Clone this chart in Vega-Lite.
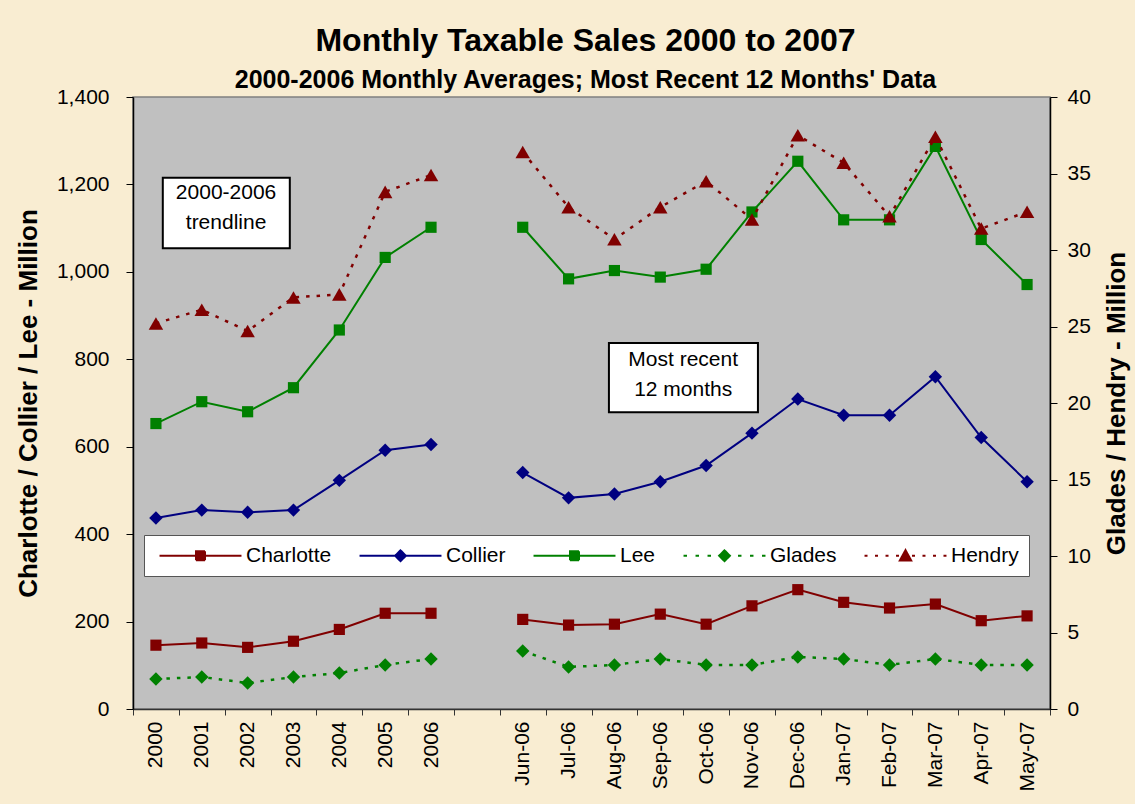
{
  "$schema": "https://vega.github.io/schema/vega-lite/v6.json",
  "width": 917,
  "height": 612,
  "autosize": {"type": "none"},
  "padding": {"left": 133, "top": 97, "right": 85, "bottom": 95},
  "background": "#F9EDD2",
  "title": {
    "text": "Monthly Taxable Sales 2000 to 2007",
    "subtitle": "2000-2006 Monthly Averages; Most Recent 12 Months' Data",
    "font": "Liberation Sans",
    "fontSize": 32,
    "fontWeight": "bold",
    "color": "black",
    "subtitleFont": "Liberation Sans",
    "subtitleFontSize": 25,
    "subtitleFontWeight": "bold",
    "subtitleColor": "black",
    "subtitlePadding": 10,
    "anchor": "middle",
    "frame": "group",
    "offset": -8,
    "dx": -6
  },
  "datasets": {
    "sales": [
      {"period": "2000", "county": "Charlotte", "value": 146, "span": "annual"},
      {"period": "2001", "county": "Charlotte", "value": 151, "span": "annual"},
      {"period": "2002", "county": "Charlotte", "value": 141, "span": "annual"},
      {"period": "2003", "county": "Charlotte", "value": 155, "span": "annual"},
      {"period": "2004", "county": "Charlotte", "value": 182, "span": "annual"},
      {"period": "2005", "county": "Charlotte", "value": 219, "span": "annual"},
      {"period": "2006", "county": "Charlotte", "value": 219, "span": "annual"},
      {"period": "Jun-06", "county": "Charlotte", "value": 205, "span": "monthly"},
      {"period": "Jul-06", "county": "Charlotte", "value": 192, "span": "monthly"},
      {"period": "Aug-06", "county": "Charlotte", "value": 194, "span": "monthly"},
      {"period": "Sep-06", "county": "Charlotte", "value": 217, "span": "monthly"},
      {"period": "Oct-06", "county": "Charlotte", "value": 194, "span": "monthly"},
      {"period": "Nov-06", "county": "Charlotte", "value": 236, "span": "monthly"},
      {"period": "Dec-06", "county": "Charlotte", "value": 273, "span": "monthly"},
      {"period": "Jan-07", "county": "Charlotte", "value": 244, "span": "monthly"},
      {"period": "Feb-07", "county": "Charlotte", "value": 231, "span": "monthly"},
      {"period": "Mar-07", "county": "Charlotte", "value": 240, "span": "monthly"},
      {"period": "Apr-07", "county": "Charlotte", "value": 202, "span": "monthly"},
      {"period": "May-07", "county": "Charlotte", "value": 213, "span": "monthly"},
      {"period": "2000", "county": "Collier", "value": 437, "span": "annual"},
      {"period": "2001", "county": "Collier", "value": 455, "span": "annual"},
      {"period": "2002", "county": "Collier", "value": 450, "span": "annual"},
      {"period": "2003", "county": "Collier", "value": 455, "span": "annual"},
      {"period": "2004", "county": "Collier", "value": 523, "span": "annual"},
      {"period": "2005", "county": "Collier", "value": 592, "span": "annual"},
      {"period": "2006", "county": "Collier", "value": 605, "span": "annual"},
      {"period": "Jun-06", "county": "Collier", "value": 541, "span": "monthly"},
      {"period": "Jul-06", "county": "Collier", "value": 483, "span": "monthly"},
      {"period": "Aug-06", "county": "Collier", "value": 492, "span": "monthly"},
      {"period": "Sep-06", "county": "Collier", "value": 520, "span": "monthly"},
      {"period": "Oct-06", "county": "Collier", "value": 557, "span": "monthly"},
      {"period": "Nov-06", "county": "Collier", "value": 631, "span": "monthly"},
      {"period": "Dec-06", "county": "Collier", "value": 709, "span": "monthly"},
      {"period": "Jan-07", "county": "Collier", "value": 672, "span": "monthly"},
      {"period": "Feb-07", "county": "Collier", "value": 672, "span": "monthly"},
      {"period": "Mar-07", "county": "Collier", "value": 760, "span": "monthly"},
      {"period": "Apr-07", "county": "Collier", "value": 621, "span": "monthly"},
      {"period": "May-07", "county": "Collier", "value": 520, "span": "monthly"},
      {"period": "2000", "county": "Lee", "value": 653, "span": "annual"},
      {"period": "2001", "county": "Lee", "value": 703, "span": "annual"},
      {"period": "2002", "county": "Lee", "value": 680, "span": "annual"},
      {"period": "2003", "county": "Lee", "value": 735, "span": "annual"},
      {"period": "2004", "county": "Lee", "value": 867, "span": "annual"},
      {"period": "2005", "county": "Lee", "value": 1033, "span": "annual"},
      {"period": "2006", "county": "Lee", "value": 1102, "span": "annual"},
      {"period": "Jun-06", "county": "Lee", "value": 1102, "span": "monthly"},
      {"period": "Jul-06", "county": "Lee", "value": 984, "span": "monthly"},
      {"period": "Aug-06", "county": "Lee", "value": 1003, "span": "monthly"},
      {"period": "Sep-06", "county": "Lee", "value": 988, "span": "monthly"},
      {"period": "Oct-06", "county": "Lee", "value": 1006, "span": "monthly"},
      {"period": "Nov-06", "county": "Lee", "value": 1137, "span": "monthly"},
      {"period": "Dec-06", "county": "Lee", "value": 1253, "span": "monthly"},
      {"period": "Jan-07", "county": "Lee", "value": 1119, "span": "monthly"},
      {"period": "Feb-07", "county": "Lee", "value": 1119, "span": "monthly"},
      {"period": "Mar-07", "county": "Lee", "value": 1287, "span": "monthly"},
      {"period": "Apr-07", "county": "Lee", "value": 1074, "span": "monthly"},
      {"period": "May-07", "county": "Lee", "value": 971, "span": "monthly"},
      {"period": "2000", "county": "Glades", "value": 1.96, "span": "annual"},
      {"period": "2001", "county": "Glades", "value": 2.09, "span": "annual"},
      {"period": "2002", "county": "Glades", "value": 1.70, "span": "annual"},
      {"period": "2003", "county": "Glades", "value": 2.09, "span": "annual"},
      {"period": "2004", "county": "Glades", "value": 2.35, "span": "annual"},
      {"period": "2005", "county": "Glades", "value": 2.88, "span": "annual"},
      {"period": "2006", "county": "Glades", "value": 3.27, "span": "annual"},
      {"period": "Jun-06", "county": "Glades", "value": 3.79, "span": "monthly"},
      {"period": "Jul-06", "county": "Glades", "value": 2.75, "span": "monthly"},
      {"period": "Aug-06", "county": "Glades", "value": 2.88, "span": "monthly"},
      {"period": "Sep-06", "county": "Glades", "value": 3.27, "span": "monthly"},
      {"period": "Oct-06", "county": "Glades", "value": 2.88, "span": "monthly"},
      {"period": "Nov-06", "county": "Glades", "value": 2.88, "span": "monthly"},
      {"period": "Dec-06", "county": "Glades", "value": 3.40, "span": "monthly"},
      {"period": "Jan-07", "county": "Glades", "value": 3.27, "span": "monthly"},
      {"period": "Feb-07", "county": "Glades", "value": 2.88, "span": "monthly"},
      {"period": "Mar-07", "county": "Glades", "value": 3.27, "span": "monthly"},
      {"period": "Apr-07", "county": "Glades", "value": 2.88, "span": "monthly"},
      {"period": "May-07", "county": "Glades", "value": 2.88, "span": "monthly"},
      {"period": "2000", "county": "Hendry", "value": 25.2, "span": "annual"},
      {"period": "2001", "county": "Hendry", "value": 26.1, "span": "annual"},
      {"period": "2002", "county": "Hendry", "value": 24.7, "span": "annual"},
      {"period": "2003", "county": "Hendry", "value": 26.9, "span": "annual"},
      {"period": "2004", "county": "Hendry", "value": 27.1, "span": "annual"},
      {"period": "2005", "county": "Hendry", "value": 33.8, "span": "annual"},
      {"period": "2006", "county": "Hendry", "value": 34.9, "span": "annual"},
      {"period": "Jun-06", "county": "Hendry", "value": 36.4, "span": "monthly"},
      {"period": "Jul-06", "county": "Hendry", "value": 32.8, "span": "monthly"},
      {"period": "Aug-06", "county": "Hendry", "value": 30.7, "span": "monthly"},
      {"period": "Sep-06", "county": "Hendry", "value": 32.8, "span": "monthly"},
      {"period": "Oct-06", "county": "Hendry", "value": 34.5, "span": "monthly"},
      {"period": "Nov-06", "county": "Hendry", "value": 32.0, "span": "monthly"},
      {"period": "Dec-06", "county": "Hendry", "value": 37.5, "span": "monthly"},
      {"period": "Jan-07", "county": "Hendry", "value": 35.7, "span": "monthly"},
      {"period": "Feb-07", "county": "Hendry", "value": 32.2, "span": "monthly"},
      {"period": "Mar-07", "county": "Hendry", "value": 37.4, "span": "monthly"},
      {"period": "Apr-07", "county": "Hendry", "value": 31.4, "span": "monthly"},
      {"period": "May-07", "county": "Hendry", "value": 32.5, "span": "monthly"}
    ],
    "notes": [
      {"note": ["2000-2006", "trendline"], "x0": 0.65, "x1": 3.42, "y0": 1054, "y1": 1215, "xm": 2.03, "ym": 1180},
      {"note": ["Most recent", "12 months"], "x0": 10.38, "x1": 13.63, "y0": 679, "y1": 837, "xm": 12.0, "ym": 798}
    ]
  },
  "layer": [
    {
      "data": {"name": "sales"},
      "transform": [{"filter": {"field": "county", "oneOf": ["Charlotte", "Collier", "Lee"]}}],
      "encoding": {
        "x": {
          "field": "period", "type": "ordinal", "bandPosition": 0.5,
          "scale": {"type": "band", "paddingInner": 0, "paddingOuter": 0,
            "domain": ["2000", "2001", "2002", "2003", "2004", "2005", "2006", " ", "Jun-06", "Jul-06", "Aug-06", "Sep-06", "Oct-06", "Nov-06", "Dec-06", "Jan-07", "Feb-07", "Mar-07", "Apr-07", "May-07"]},
          "axis": {"title": null, "labelAngle": -90, "tickBand": "extent", "tickSize": 6, "labelPadding": 6, "labelFontSize": 21, "domainColor": "#333333", "domainWidth": 1.5, "tickColor": "#333333"}
        },
        "y": {
          "field": "value", "type": "quantitative",
          "scale": {"domain": [0, 1400], "nice": false},
          "axis": {"title": "Charlotte / Collier / Lee - Million", "values": [0, 200, 400, 600, 800, 1000, 1200, 1400], "format": ",.0f", "tickSize": 7, "labelPadding": 17, "titlePadding": 15, "labelFontSize": 21, "domainColor": "black", "domainWidth": 1.5}
        },
        "color": {
          "field": "county", "type": "nominal",
          "scale": {"domain": ["Charlotte", "Collier", "Lee", "Glades", "Hendry"], "range": ["#800000", "#000080", "#008000", "#008000", "#800000"]},
          "legend": {
            "orient": "none", "legendX": 11, "legendY": 438, "direction": "horizontal", "title": null,
            "fillColor": "white", "strokeColor": "#555555", "padding": 10,
            "labelFont": "Liberation Sans", "labelFontSize": 21, "labelColor": "black",
            "symbolSize": 144, "symbolStrokeWidth": 2, "labelOffset": 71, "columnPadding": 22,
            "encode": {
              "symbols": {
                "update": {
                  "shape": {"signal": "datum.value === 'Charlotte' || datum.value === 'Lee' ? 'M-0.83,0H12.83M5.25,-0.75H6.75V0.75H5.25Z' : datum.value === 'Collier' ? 'M-0.83,0H12.83M5.1,0L6,-0.9L6.9,0L6,0.9Z' : datum.value === 'Glades' ? 'M-0.83,0h0.58M1.17,0h0.58M3.17,0h0.58M8.25,0h0.58M10.25,0h0.58M12.25,0h0.58M5.1,0L6,-0.9L6.9,0L6,0.9Z' : 'M-0.83,0h0.5M0.92,0h0.5M2.67,0h0.5M4.42,0h0.5M7.08,0h0.5M8.83,0h0.5M10.58,0h0.5M12.33,0h0.5M5.05,0.8L6,-0.93L6.95,0.8Z'"},
                  "fill": {"scale": "color", "field": "value"},
                  "stroke": {"scale": "color", "field": "value"},
                  "strokeWidth": {"value": 2},
                  "strokeDash": {"value": [1, 0]},
                  "opacity": {"value": 1}
                }
              }
            }
          }
        }
      },
      "layer": [
        {
          "mark": {"type": "line", "strokeWidth": 2},
          "encoding": {"detail": {"field": "span"}, "order": {"value": null}}
        },
        {
          "transform": [{"filter": {"field": "county", "oneOf": ["Charlotte", "Lee"]}}],
          "mark": {"type": "point", "shape": "square", "size": 125, "filled": true, "opacity": 1, "strokeWidth": 0}
        },
        {
          "transform": [{"filter": {"field": "county", "equal": "Collier"}}],
          "mark": {"type": "point", "shape": "diamond", "size": 180, "filled": true, "opacity": 1, "strokeWidth": 0}
        }
      ]
    },
    {
      "data": {"name": "sales"},
      "transform": [{"filter": {"field": "county", "oneOf": ["Glades", "Hendry"]}}],
      "encoding": {
        "x": {
          "field": "period", "type": "ordinal", "bandPosition": 0.5,
          "scale": {"type": "band", "paddingInner": 0, "paddingOuter": 0,
            "domain": ["2000", "2001", "2002", "2003", "2004", "2005", "2006", " ", "Jun-06", "Jul-06", "Aug-06", "Sep-06", "Oct-06", "Nov-06", "Dec-06", "Jan-07", "Feb-07", "Mar-07", "Apr-07", "May-07"]},
          "axis": null
        },
        "y": {
          "field": "value", "type": "quantitative",
          "scale": {"domain": [0, 40], "nice": false},
          "axis": {"orient": "right", "title": "Glades / Hendry - Million", "values": [0, 5, 10, 15, 20, 25, 30, 35, 40], "tickSize": 7, "labelPadding": 10, "labelFontSize": 21, "titleAngle": 270, "titleBaseline": "top", "titlePadding": 13, "domainColor": "black", "domainWidth": 1.5}
        },
        "color": {"field": "county", "type": "nominal"}
      },
      "layer": [
        {
          "mark": {"type": "line", "strokeWidth": 2.5, "strokeDash": [3.5, 7]},
          "encoding": {"detail": {"field": "span"}, "order": {"value": null}}
        },
        {
          "transform": [{"filter": {"field": "county", "equal": "Glades"}}],
          "mark": {"type": "point", "shape": "diamond", "size": 180, "filled": true, "opacity": 1, "strokeWidth": 0}
        },
        {
          "transform": [{"filter": {"field": "county", "equal": "Hendry"}}],
          "mark": {"type": "point", "shape": "triangle-up", "size": 210, "filled": true, "opacity": 1, "strokeWidth": 0}
        }
      ]
    },
    {
      "data": {"name": "notes"},
      "layer": [
        {
          "mark": {"type": "rect", "fill": "white", "stroke": "black", "strokeWidth": 2},
          "encoding": {
            "x": {"field": "x0", "type": "quantitative", "scale": {"domain": [0, 20], "nice": false, "zero": false}, "axis": null},
            "x2": {"field": "x1"},
            "y": {"field": "y0", "type": "quantitative", "scale": {"domain": [0, 1400], "nice": false}, "axis": null},
            "y2": {"field": "y1"}
          }
        },
        {
          "mark": {"type": "text", "font": "Liberation Sans", "fontSize": 21, "lineHeight": 30, "align": "center", "baseline": "middle", "color": "black"},
          "encoding": {
            "x": {"field": "xm", "type": "quantitative", "scale": {"domain": [0, 20], "nice": false, "zero": false}, "axis": null},
            "y": {"field": "ym", "type": "quantitative", "scale": {"domain": [0, 1400], "nice": false}, "axis": null},
            "text": {"field": "note"}
          }
        }
      ]
    }
  ],
  "resolve": {"scale": {"x": "independent", "y": "independent"}},
  "config": {
    "font": "Liberation Sans",
    "view": {"fill": "#C0C0C0", "stroke": "#808080", "strokeWidth": 1.5},
    "axis": {"labelFont": "Liberation Sans", "labelColor": "black", "tickColor": "black", "grid": false, "titleFont": "Liberation Sans", "titleFontSize": 26, "titleFontWeight": "bold", "titleColor": "black"}
  }
}
